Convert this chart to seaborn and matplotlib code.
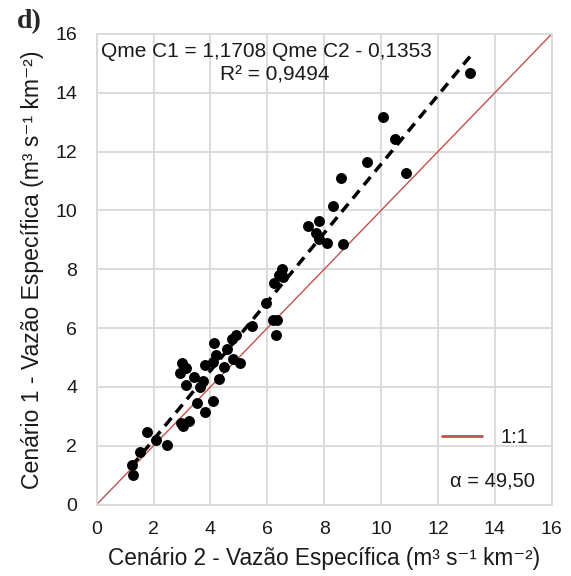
import numpy as np
import pandas as pd
import matplotlib
matplotlib.use("Agg")
import matplotlib.pyplot as plt
import seaborn as sns

# Data
cenario2 = [1.23, 1.29, 1.52, 1.76, 2.09, 2.46, 2.95, 3.02, 3.26, 3.54,
            3.81, 4.10, 3.63, 3.15, 3.75, 4.31, 3.42, 2.93, 3.14, 2.99,
            3.81, 4.49, 4.10, 4.19, 4.78, 5.04, 4.57, 4.12, 4.75, 4.90,
            5.45, 6.21, 6.33, 6.30, 5.95, 6.23, 6.42, 6.50, 6.55, 7.44,
            7.83, 7.71, 7.83, 8.09, 8.67, 8.32, 8.59, 9.51, 10.88, 10.49,
            10.08, 13.13]
cenario1 = [1.33, 1.01, 1.78, 2.46, 2.19, 2.01, 2.78, 2.67, 2.85, 3.44,
            3.16, 3.53, 3.99, 4.06, 4.21, 4.28, 4.33, 4.48, 4.63, 4.82,
            4.74, 4.69, 4.86, 5.09, 4.94, 4.80, 5.28, 5.50, 5.62, 5.77,
            6.07, 6.28, 6.28, 5.77, 6.86, 7.54, 7.81, 8.00, 7.72, 9.47,
            9.65, 9.22, 9.02, 8.90, 8.85, 10.15, 11.10, 11.66, 11.27, 12.42,
            13.17, 14.68]
slope = 1.1708
intercept = -0.1353
ticks = [0, 2, 4, 6, 8, 10, 12, 14, 16]
equation_text = "Qme C1 = 1,1708 Qme C2 - 0,1353"
r2_text = "R² = 0,9494"
alpha_text = "α = 49,50"
xlabel = "Cenário 2 - Vazão Específica (m³ s⁻¹ km⁻²)"
ylabel = "Cenário 1 - Vazão Específica (m³ s⁻¹ km⁻²)"

df = pd.DataFrame({"c2": cenario2, "c1": cenario1})

sns.set_style("white")
plt.rcParams["font.family"] = ["Liberation Sans", "DejaVu Sans"]

fig = plt.figure(figsize=(5.71, 5.76), dpi=100)
ax = fig.add_axes([0.1693, 0.1241, 0.7969, 0.8169])

grid_c = "#d9d9d9"
text_c = "#1a1a1a"
red = "#c4504d"
# 1:1 line
one = pd.DataFrame({"x": [0, 16], "y": [0, 16]})
sns.lineplot(data=one, x="x", y="y", ax=ax, color=red, lw=1.0,
             label="1:1", zorder=2)
# regression line
xs = np.array([min(cenario2), max(cenario2)])
reg = pd.DataFrame({"x": xs, "y": slope * xs + intercept})
sns.lineplot(data=reg, x="x", y="y", ax=ax, color="black", lw=2.5,
             linestyle=(0, (3, 2)), zorder=3, legend=False)
# points
sns.scatterplot(data=df, x="c2", y="c1", ax=ax, color="black", s=62,
                edgecolor="black", linewidth=0, zorder=4, legend=False)

ax.set_xlim(0, 16)
ax.set_ylim(0, 16)
ax.set_xticks(ticks)
ax.set_yticks(ticks)
ax.grid(True, color=grid_c, lw=1.3)
ax.set_axisbelow(True)
for s in ax.spines.values():
    s.set_color(grid_c)
    s.set_linewidth(1.3)
ax.tick_params(axis="both", length=0, labelsize=14, colors=text_c)
ax.tick_params(axis="y", pad=14)
ax.tick_params(axis="x", pad=12)
ax.set_xlabel(xlabel, fontsize=16.3, color=text_c, labelpad=6)
ax.set_ylabel(ylabel, fontsize=16.6, color=text_c, labelpad=8)

ax.text(0.373, 0.962, equation_text, transform=ax.transAxes, ha="center",
        va="center", fontsize=15, color=text_c)
ax.text(0.392, 0.913, r2_text, transform=ax.transAxes, ha="center",
        va="center", fontsize=15, color=text_c)
ax.text(0.869, 0.05, alpha_text, transform=ax.transAxes, ha="center",
        va="center", fontsize=14.5, color=text_c)

leg = ax.legend(loc="center left", bbox_to_anchor=(0.719, 0.143), frameon=False,
                fontsize=14.5, handlelength=2.0, handletextpad=0.9)
for t in leg.get_texts():
    t.set_color(text_c)
for h in leg.get_lines():
    h.set_linewidth(2.0)

fig.text(0.03, 0.962, "d)", fontsize=20, fontweight="bold",
         family=["Liberation Serif", "DejaVu Serif"], va="center", ha="left")

fig.savefig("out.png", dpi=100)
